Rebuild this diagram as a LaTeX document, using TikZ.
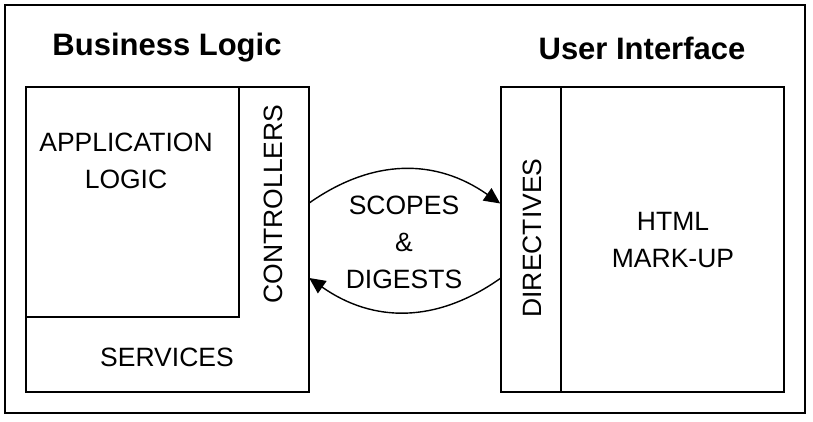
\documentclass[tikz,border=0pt]{standalone}
\usepackage{fontspec}
\setmainfont{Liberation Sans}
\usetikzlibrary{arrows.meta}
\tikzset{
  box/.style={draw, line width=1.6pt, inner sep=0pt},
  lbl/.style={font=\fontsize{26.5}{37}\selectfont, align=center},
  ttl/.style={font=\fontsize{31}{37}\selectfont\bfseries},
  flow/.style={line width=1.4pt, -{Triangle[length=16pt,width=15pt]}}
}
\begin{document}
\begin{tikzpicture}[x=1pt,y=-1pt]
  \useasboundingbox (0,0) rectangle (813,422);
  \draw[line width=1.4pt] (5,5) rectangle (805,413);
  % left side
  \node[ttl] (T1) at (167,48) {Business Logic};
  \node[box, minimum width=283pt, minimum height=305pt] (BL) at (167.5,239.5) {};
  \node[box, minimum width=213pt, minimum height=230pt] (AL) at (132.5,202) {};
  \node[inner sep=0pt, minimum width=70pt, minimum height=230pt] (CT) at (274,202) {};
  \node[lbl] (A1) at (126,161) {APPLICATION\\LOGIC};
  \node[lbl] (S1) at (167,357) {SERVICES};
  \node[lbl, rotate=90] (C1) at (273,204) {CONTROLLERS};
  % right side
  \node[ttl] (T2) at (642,48) {User Interface};
  \node[box, minimum width=283pt, minimum height=305pt] (UI) at (642.5,239.5) {};
  \node[box, minimum width=60pt, minimum height=305pt] (DR) at (531,239.5) {};
  \node[lbl, rotate=90] (D1) at (532,238) {DIRECTIVES};
  \node[lbl] (H1) at (673,240) {HTML\\MARK-UP};
  % middle
  \node[lbl] (M1) at (404,242) {SCOPES\\\&\\DIGESTS};
  \coordinate (P0) at ([yshift=-1pt]CT.east);
  \coordinate (P1) at ([yshift=36pt]DR.west);
  \coordinate (Q0) at ([yshift=-76pt]CT.east);
  \coordinate (Q1) at ([yshift=-39pt]DR.west);
  \draw[flow] (P0) .. controls +(64,-45) and +(-64,-45) .. (P1);
  \draw[flow] (Q1) .. controls +(-64,45) and +(64,45) .. (Q0);
\end{tikzpicture}
\end{document}
